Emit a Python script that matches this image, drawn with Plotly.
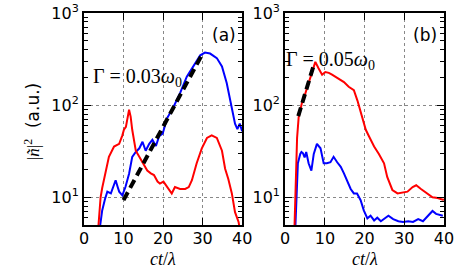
import plotly.graph_objects as go

# ---------------- data ----------------
# panel (a)
a_blue_x = [3.8, 4.6, 5.3, 5.9, 6.8, 7.4, 8.0, 8.5, 8.9, 9.7, 10.5, 11.4, 12.2, 13.1, 14.0, 14.8,
            15.6, 16.5, 17.3, 18.2, 19.0, 19.9, 21.0, 22.6, 24.3, 26.0, 27.7, 29.4, 30.6, 31.9,
            33.6, 34.9, 36.1, 37.4, 38.2, 38.8, 39.4, 40.0]
a_blue_y = [4.0, 7.2, 9.5, 11.5, 11.0, 13.0, 15.3, 13.0, 11.5, 10.5, 13.0, 18.0, 27.5, 31.0, 34.0, 40.0,
            32.0, 38.0, 42.0, 36.0, 46.0, 49.0, 72.0, 95.0, 135.0, 204.0, 270.0, 347.0, 372.0, 363.0,
            324.0, 263.0, 174.0, 95.0, 63.0, 55.0, 63.0, 52.0]

a_red_x = [3.5, 3.8, 4.2, 4.6, 5.5, 6.3, 7.6, 8.9, 9.7, 10.1, 10.6, 11.0, 11.4, 11.8, 12.2, 13.1,
           14.0, 14.8, 16.0, 16.9, 17.7, 18.6, 19.2, 20.1, 21.3, 22.2, 23.0, 24.3, 25.6, 26.5,
           27.3, 28.5, 29.8, 31.1, 32.3, 33.6, 34.9, 35.7, 36.5, 37.4, 38.2, 39.1, 39.6]
a_red_y = [4.0, 5.6, 10.0, 12.6, 19.5, 27.5, 35.5, 38.0, 47.0, 54.0, 58.0, 75.0, 89.0, 75.0, 54.0, 32.0,
           27.5, 23.4, 19.5, 18.2, 17.4, 14.8, 14.1, 14.8, 12.3, 11.0, 12.9, 12.3, 12.3, 12.9,
           15.3, 23.4, 34.0, 44.0, 47.0, 44.0, 32.0, 20.4, 15.8, 11.0, 6.9, 5.4, 4.0]

a_fit_x = [10.0, 30.0]
a_fit_y = [9.3, 363.0]

# panel (b)
b_red_x = [2.3, 2.7, 3.0, 3.4, 4.2, 5.1, 5.9, 6.8, 7.3, 7.6, 8.4, 9.3, 10.1, 11.0, 11.8, 13.5,
           14.8, 16.0, 17.3, 18.2, 19.4, 20.3, 21.1, 22.4, 23.6, 24.9, 25.7, 26.6, 27.0, 28.3,
           29.5, 30.8, 32.1, 33.0, 34.2, 35.9, 37.1, 38.4, 39.7, 40.0]
b_red_y = [4.0, 20.0, 44.0, 74.0, 105.0, 135.0, 174.0, 219.0, 260.0, 295.0, 251.0, 214.0, 229.0, 224.0,
           214.0, 195.0, 178.0, 158.0, 145.0, 112.0, 74.0, 54.0, 46.0, 35.5, 29.5, 23.4, 16.6, 13.0,
           12.0, 11.0, 11.3, 11.5, 12.9, 13.5, 12.3, 11.0, 10.0, 9.8, 9.4, 9.5]

b_blue_x = [2.5, 2.9, 3.2, 3.8, 4.1, 4.5, 4.9, 5.3, 5.9, 6.6, 7.2, 8.0, 8.9, 9.7, 10.5, 11.4, 12.2,
            13.1, 14.0, 14.8, 15.6, 16.5, 17.3, 18.1, 19.0, 19.8, 20.7, 21.5, 22.4, 23.2, 24.1,
            25.3, 26.0, 27.2, 28.5, 29.7, 31.0, 32.2, 33.5, 34.7, 35.9, 37.1, 38.0, 39.7]
b_blue_y = [4.0, 12.0, 23.4, 29.5, 31.0, 30.0, 27.0, 31.0, 23.4, 19.5, 29.5, 38.0, 34.0, 23.4, 23.4,
            24.0, 27.5, 24.0, 21.4, 18.2, 14.8, 12.3, 11.0, 11.0, 9.3, 7.2, 5.9, 6.3, 5.6, 6.0, 5.5,
            6.0, 6.3, 5.8, 5.5, 5.4, 5.5, 5.4, 5.8, 5.5, 6.3, 7.1, 6.6, 6.3]

b_fit_x = [3.3, 7.4]
b_fit_y = [76.0, 290.0]

x_ticks = [0, 10, 20, 30, 40]
y_ticks = [10, 100, 1000]
y_tick_text = ["10<sup>1</sup>", "10<sup>2</sup>", "10<sup>3</sup>"]
y_minor = [6, 7, 8, 9, 20, 30, 40, 50, 60, 70, 80, 90, 200, 300, 400, 500, 600, 700, 800, 900]

# ---------------- figure ----------------
fig = go.Figure()

fig.add_trace(go.Scatter(x=a_blue_x, y=a_blue_y, mode="lines", line=dict(color="#0000ff", width=2),
                         xaxis="x", yaxis="y", showlegend=False))
fig.add_trace(go.Scatter(x=a_red_x, y=a_red_y, mode="lines", line=dict(color="#ff0000", width=2),
                         xaxis="x", yaxis="y", showlegend=False))
fig.add_trace(go.Scatter(x=a_fit_x, y=a_fit_y, mode="lines",
                         line=dict(color="black", width=4, dash="9px,5px"),
                         xaxis="x", yaxis="y", showlegend=False))

fig.add_trace(go.Scatter(x=b_blue_x, y=b_blue_y, mode="lines", line=dict(color="#0000ff", width=2),
                         xaxis="x2", yaxis="y2", showlegend=False))
fig.add_trace(go.Scatter(x=b_red_x, y=b_red_y, mode="lines", line=dict(color="#ff0000", width=2),
                         xaxis="x2", yaxis="y2", showlegend=False))
fig.add_trace(go.Scatter(x=b_fit_x, y=b_fit_y, mode="lines",
                         line=dict(color="black", width=4, dash="9px,5px"),
                         xaxis="x2", yaxis="y2", showlegend=False))

W, H = 467, 275
L, R, T, B = 84, 443.7, 13, 224.7          # plot-area pixel box
PW, PH = R - L, B - T
xdom_a = [0, (242 - L) / PW]
xdom_b = [(285 - L) / PW, 1]

def px(xp):
    return (xp - L) / PW

def py(yp):
    return (B - yp) / PH

tickfont = dict(family="DejaVu Sans", size=16, color="black")

def xaxis(dom, anchor):
    return dict(domain=dom, anchor=anchor, range=[0, 40], tickmode="array", tickvals=x_ticks,
                ticks="inside", ticklen=7, tickwidth=1.2, tickcolor="black", mirror="allticks",
                showline=True, linecolor="black", linewidth=2, showgrid=True, gridcolor="#888888",
                griddash="dot", gridwidth=1, zeroline=False, tickfont=tickfont,
                automargin=False, ticklabelstandoff=-2)

def yaxis(anchor):
    return dict(domain=[0, 1], anchor=anchor, type="log", range=[0.699, 3], tickmode="array",
                tickvals=y_ticks, ticktext=y_tick_text,
                ticks="inside", ticklen=7, tickwidth=1.2, tickcolor="black", mirror="allticks",
                showline=True, linecolor="black", linewidth=2, showgrid=True, gridcolor="#888888",
                griddash="dot", gridwidth=1, zeroline=False, tickfont=tickfont, automargin=False,
                minor=dict(tickmode="array", tickvals=y_minor, ticks="inside", ticklen=4,
                           tickwidth=1, tickcolor="black", showgrid=False))

fig.update_layout(
    width=W, height=H, margin=dict(l=L, r=W - R, t=T, b=H - B, autoexpand=False),
    paper_bgcolor="white", plot_bgcolor="white", hovermode=False,
    xaxis=xaxis(xdom_a, "y"), yaxis=yaxis("x"),
    xaxis2=xaxis(xdom_b, "y2"), yaxis2=yaxis("x2"),
)

serif = "Liberation Serif"
ann = []
ann.append(dict(x=px(91), y=py(77), xref="paper", yref="paper", text="Γ = 0.03<i>ω</i><sub>0</sub>",
                showarrow=False, xanchor="left", yanchor="middle",
                font=dict(family=serif, size=20, color="black")))
ann.append(dict(x=px(284), y=py(60), xref="paper", yref="paper", text="Γ = 0.05<i>ω</i><sub>0</sub>",
                showarrow=False, xanchor="left", yanchor="middle",
                font=dict(family=serif, size=20, color="black")))
ann.append(dict(x=px(223.5), y=py(35), xref="paper", yref="paper", text="(a)", showarrow=False,
                xanchor="center", yanchor="middle", font=dict(family="DejaVu Sans", size=17, color="black")))
ann.append(dict(x=px(425), y=py(35), xref="paper", yref="paper", text="(b)", showarrow=False,
                xanchor="center", yanchor="middle", font=dict(family="DejaVu Sans", size=17, color="black")))
# x axis titles
for cx in [(84 + 242) / 2, (285 + 443.7) / 2]:
    ann.append(dict(x=px(cx), y=py(259), xref="paper", yref="paper",
                    text="<i>ct</i>/<i>λ</i>", showarrow=False, xanchor="center", yanchor="middle",
                    font=dict(family=serif, size=18, color="black")))
# y axis title
ann.append(dict(x=px(32), y=py(121), xref="paper", yref="paper",
                text="<span style=\"font-family:'Liberation Serif'\">|<i>ñ</i>|<sup>2</sup></span>  (a.u.)",
                textangle=-90, showarrow=False, xanchor="center", yanchor="middle",
                font=dict(family="DejaVu Sans", size=17, color="black")))
fig.update_layout(annotations=ann)

fig.write_html("out.html", config={"displayModeBar": False},
               post_script="document.body.style.margin='0';")
